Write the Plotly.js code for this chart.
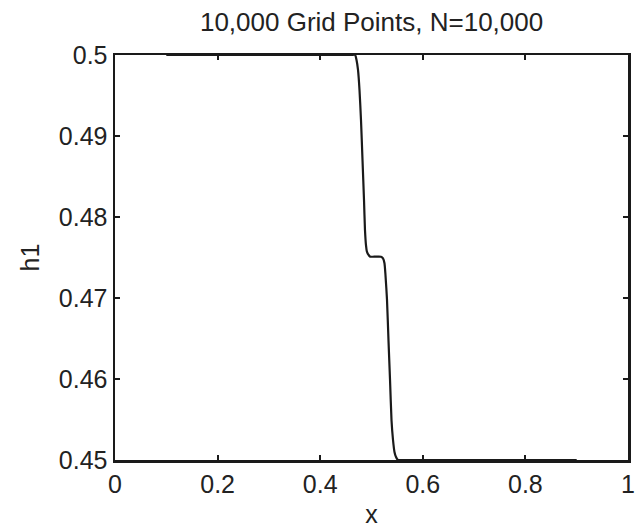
<!DOCTYPE html>
<html>
<head>
<meta charset="utf-8">
<script src="https://cdn.plot.ly/plotly-3.0.1.min.js"></script>
<style>html,body{margin:0;padding:0;background:#fff;}#plot{width:639px;height:529px;}</style>
</head>
<body>
<div id="plot"></div>
<script>
const xValues = [0.10, 0.30, 0.46, 0.468, 0.4708, 0.4737, 0.4766, 0.4795, 0.4825, 0.4854, 0.4873, 0.4893, 0.4912, 0.4951, 0.4975, 0.505, 0.5185, 0.5224, 0.5253, 0.5273, 0.5302, 0.5331, 0.5361, 0.5390, 0.5419, 0.5448, 0.5478, 0.5517, 0.56, 0.70, 0.90];
const h1Values = [0.5, 0.5, 0.5, 0.5, 0.49938, 0.49815, 0.49568, 0.4920, 0.4870, 0.4821, 0.4784, 0.4765, 0.4757, 0.47525, 0.4751, 0.4751, 0.4751, 0.4749, 0.4743, 0.4728, 0.4698, 0.4648, 0.4599, 0.4549, 0.4525, 0.4510, 0.45037, 0.4500, 0.45, 0.45, 0.45];
const xTicks = [0, 0.2, 0.4, 0.6, 0.8, 1];
const xTickText = ['0', '0.2', '0.4', '0.6', '0.8', '1'];
const yTicks = [0.45, 0.46, 0.47, 0.48, 0.49, 0.5];
const yTickText = ['0.45', '0.46', '0.47', '0.48', '0.49', '0.5'];

const FONT = 'Liberation Sans, Arial, Helvetica, sans-serif';
const trace = {
  x: xValues, y: h1Values, type: 'scatter', mode: 'lines',
  line: {color: '#1a1a1a', width: 2.2, shape: 'spline', smoothing: 0.6},
  hoverinfo: 'skip'
};
const axisCommon = {
  showline: true, linecolor: '#1a1a1a', linewidth: 2.5, mirror: 'ticks',
  ticks: 'inside', ticklen: 5, tickwidth: 2, tickcolor: '#1a1a1a',
  showgrid: false, zeroline: false, tickmode: 'array',
  tickfont: {family: FONT, size: 25, color: '#222'}
};
const layout = {
  width: 639, height: 529,
  margin: {l: 115, r: 11, t: 55, b: 69},
  paper_bgcolor: '#fff', plot_bgcolor: '#fff',
  showlegend: false,
  title: {text: '10,000 Grid Points, N=10,000', x: 0.5815, xanchor: 'center', y: 0.958, yanchor: 'middle',
          font: {family: FONT, size: 26, color: '#222'}},
  xaxis: Object.assign({}, axisCommon, {range: [0, 1], tickvals: xTicks, ticktext: xTickText,
          title: {text: 'x', standoff: 9, font: {family: FONT, size: 25, color: '#222'}}}),
  yaxis: Object.assign({}, axisCommon, {range: [0.45, 0.5], tickvals: yTicks, ticktext: yTickText,
          title: {text: 'h1', standoff: 12, font: {family: FONT, size: 25, color: '#222'}}})
};
Plotly.newPlot('plot', [trace], layout, {staticPlot: true, displayModeBar: false});
</script>
</body>
</html>
